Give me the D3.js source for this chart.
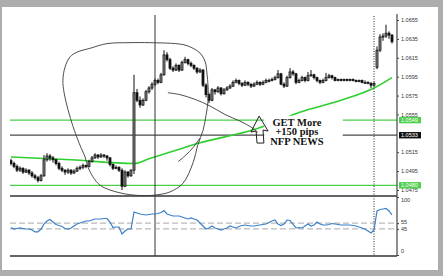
<!DOCTYPE html>
<html>
<head>
<meta charset="utf-8">
<script src="https://cdn.jsdelivr.net/npm/d3@7"></script>
<style>
  html, body { margin: 0; padding: 0; background: #adadad; }
  svg { display: block; }
</style>
</head>
<body>
<svg id="chart" width="443" height="276"></svg>
<script>
// EURUSD-style intraday bars around the NFP release
const open = [
  1.0506,1.0503,1.0500,1.0496,1.0498,1.0494,1.0496,1.0493,1.0490,1.0488,
  1.0485,1.0490,1.0507,1.0511,1.0509,1.0507,1.0503,1.0498,1.0496,1.0494,
  1.0496,1.0493,1.0495,1.0498,1.0499,1.0501,1.0500,1.0505,1.0509,1.0512,
  1.0510,1.0512,1.0511,1.0509,1.0502,1.0498,1.0499,1.0496,1.0479,1.0494,
  1.0490,1.0496,1.0578,1.0570,1.0565,1.0570,1.0579,1.0583,1.0587,1.0591,
  1.0589,1.0597,1.0618,1.0613,1.0604,1.0602,1.0607,1.0602,1.0610,1.0613,
  1.0609,1.0607,1.0604,1.0600,1.0602,1.0586,1.0576,1.0570,1.0581,1.0579,
  1.0583,1.0577,1.0581,1.0583,1.0585,1.0589,1.0591,1.0588,1.0586,1.0589,
  1.0587,1.0585,1.0587,1.0589,1.0587,1.0589,1.0591,1.0591,1.0592,1.0594,
  1.0598,1.0587,1.0585,1.0594,1.0600,1.0598,1.0589,1.0591,1.0594,1.0591,
  1.0596,1.0597,1.0594,1.0591,1.0589,1.0591,1.0594,1.0596,1.0594,1.0591,
  1.0592,1.0591,1.0592,1.0591,1.0592,1.0591,1.0590,1.0591,1.0589,1.0589,
  1.0588,1.0586,1.0605,1.0623,1.0637,1.0638,1.0641,1.0639
];
const high = [
  1.0508,1.0505,1.0502,1.0500,1.0499,1.0498,1.0497,1.0495,1.0492,1.0490,
  1.0492,1.0512,1.0514,1.0513,1.0511,1.0508,1.0505,1.0500,1.0497,1.0498,
  1.0497,1.0497,1.0500,1.0501,1.0503,1.0502,1.0507,1.0511,1.0514,1.0513,
  1.0514,1.0513,1.0512,1.0510,1.0503,1.0501,1.0500,1.0498,1.0496,1.0495,
  1.0497,1.0597,1.0582,1.0574,1.0572,1.0581,1.0585,1.0589,1.0593,1.0593,
  1.0599,1.0623,1.0621,1.0615,1.0606,1.0609,1.0608,1.0612,1.0616,1.0614,
  1.0611,1.0608,1.0605,1.0604,1.0603,1.0588,1.0578,1.0583,1.0582,1.0585,
  1.0584,1.0583,1.0585,1.0587,1.0591,1.0593,1.0592,1.0589,1.0591,1.0590,
  1.0588,1.0589,1.0591,1.0590,1.0591,1.0593,1.0593,1.0594,1.0596,1.0602,
  1.0599,1.0589,1.0596,1.0604,1.0602,1.0599,1.0593,1.0596,1.0595,1.0600,
  1.0602,1.0598,1.0595,1.0592,1.0593,1.0599,1.0598,1.0597,1.0595,1.0593,
  1.0593,1.0593,1.0593,1.0593,1.0593,1.0592,1.0592,1.0592,1.0591,1.0590,
  1.0589,1.0589,1.0627,1.0640,1.0641,1.0650,1.0643,1.0640
];
const low = [
  1.0501,1.0498,1.0494,1.0494,1.0492,1.0493,1.0491,1.0488,1.0486,1.0483,
  1.0484,1.0489,1.0505,1.0506,1.0504,1.0501,1.0496,1.0494,1.0491,1.0492,
  1.0491,1.0492,1.0494,1.0496,1.0497,1.0498,1.0499,1.0504,1.0508,1.0508,
  1.0509,1.0509,1.0506,1.0500,1.0496,1.0497,1.0494,1.0475,1.0478,1.0488,
  1.0489,1.0492,1.0568,1.0562,1.0564,1.0569,1.0577,1.0581,1.0585,1.0587,
  1.0588,1.0596,1.0611,1.0602,1.0600,1.0601,1.0600,1.0601,1.0609,1.0607,
  1.0605,1.0602,1.0598,1.0599,1.0584,1.0573,1.0567,1.0569,1.0576,1.0578,
  1.0575,1.0576,1.0580,1.0582,1.0584,1.0588,1.0586,1.0584,1.0585,1.0585,
  1.0583,1.0584,1.0586,1.0585,1.0586,1.0588,1.0589,1.0590,1.0591,1.0593,
  1.0586,1.0583,1.0584,1.0593,1.0596,1.0587,1.0588,1.0590,1.0589,1.0590,
  1.0595,1.0592,1.0589,1.0587,1.0588,1.0590,1.0593,1.0592,1.0590,1.0590,
  1.0590,1.0590,1.0590,1.0590,1.0590,1.0589,1.0589,1.0588,1.0588,1.0587,
  1.0583,1.0585,1.0603,1.0621,1.0633,1.0636,1.0635,1.0630
];
const close = [
  1.0503,1.0500,1.0496,1.0498,1.0494,1.0496,1.0493,1.0490,1.0488,1.0485,
  1.0490,1.0507,1.0511,1.0509,1.0507,1.0503,1.0498,1.0496,1.0494,1.0496,
  1.0493,1.0495,1.0498,1.0499,1.0501,1.0500,1.0505,1.0509,1.0512,1.0510,
  1.0512,1.0511,1.0509,1.0502,1.0498,1.0499,1.0496,1.0479,1.0494,1.0490,
  1.0496,1.0578,1.0570,1.0565,1.0570,1.0579,1.0583,1.0587,1.0591,1.0589,
  1.0597,1.0618,1.0613,1.0604,1.0602,1.0607,1.0602,1.0610,1.0613,1.0609,
  1.0607,1.0604,1.0600,1.0602,1.0586,1.0576,1.0570,1.0581,1.0579,1.0583,
  1.0577,1.0581,1.0583,1.0585,1.0589,1.0591,1.0588,1.0586,1.0589,1.0587,
  1.0585,1.0587,1.0589,1.0587,1.0589,1.0591,1.0591,1.0592,1.0594,1.0598,
  1.0587,1.0585,1.0594,1.0600,1.0598,1.0589,1.0591,1.0594,1.0591,1.0596,
  1.0597,1.0594,1.0591,1.0589,1.0591,1.0594,1.0596,1.0594,1.0591,1.0592,
  1.0591,1.0592,1.0591,1.0592,1.0591,1.0590,1.0591,1.0589,1.0589,1.0588,
  1.0586,1.0588,1.0623,1.0637,1.0638,1.0641,1.0639,1.0632
];

// RSI oscillator, one value per bar
const rsi = [
  47.4,44.8,45.7,46.6,45.7,44.8,44.8,43.1,39.7,39.7,
  44.8,53.4,58.6,61.2,56.9,52.6,50.9,49.1,45.7,44.8,
  46.6,50.0,53.4,55.2,56.9,58.6,58.6,60.3,62.1,62.1,
  62.1,62.9,62.9,56.9,47.4,48.3,48.3,36.2,41.4,44.8,
  44.8,74.1,72.4,70.7,69.8,69.0,69.8,70.7,70.7,71.6,
  73.3,76.7,70.7,69.0,67.2,67.2,67.2,65.5,63.8,62.1,
  63.8,62.1,60.3,55.2,50.0,44.8,46.6,50.0,46.6,44.8,
  43.1,44.8,46.6,50.0,48.3,46.6,49.1,50.9,51.7,50.9,
  50.0,50.0,50.9,51.7,52.6,53.4,56.0,58.6,60.3,53.4,
  50.9,53.4,60.3,59.5,53.4,46.6,47.4,46.6,50.0,53.4,
  50.0,51.7,56.9,53.4,51.7,51.7,52.6,54.3,53.4,52.6,
  51.7,51.7,51.7,51.7,50.9,50.0,48.3,46.6,44.8,41.4,
  37.9,43.1,75.9,78.4,79.3,80.2,75.9,69.0
];

// Moving average, sampled at bar positions
const maBars   = [0, 20, 41, 46, 55, 63, 71, 80, 88, 96, 110, 121, 127];
const maValues = [1.0510, 1.0507, 1.0503, 1.0508, 1.0517, 1.0525, 1.0531, 1.0538, 1.0547, 1.0557, 1.0570, 1.0583, 1.0594];

// Price scale labels and horizontal levels
const priceTicks = [1.0655, 1.0635, 1.0615, 1.0595, 1.0575, 1.0555, 1.0515, 1.0495, 1.0475];
const greenLevels = [1.0549, 1.0480];
const blackLevels = [1.0533];
const rsiTicks = [100, 55, 45, 0];
const rsiLevels = [55, 45];

// Vertical markers (bar index)
const newsBar = 48;
const releaseBar = 121;

// Hand-drawn notes, in [bar, price] coordinates
const loopStroke = [
  [32,1.0630],[39.7,1.0631],[46.3,1.0631],[57.3,1.0629],[60.7,1.0625],[63,1.0620],
  [64.7,1.0611],[65.3,1.0599],[65.7,1.0584],[65.7,1.0570],[65,1.0554],[64,1.0538],
  [62.3,1.0523],[60.7,1.0504],[57.3,1.0482],[53,1.0473],[49,1.0470],[44.7,1.0469],
  [39.7,1.0470],[36.3,1.0472],[33,1.0475],[29.7,1.0480],[27.3,1.0489],[25.7,1.0499],
  [24.7,1.0510],[23.3,1.0520],[22.3,1.0528],[20.7,1.0542],[19,1.0560],[17.7,1.0578],
  [17.3,1.0591],[18,1.0605],[19.7,1.0616],[22,1.0621],[26.3,1.0625]
];
const swooshStroke = [
  [52.3,1.0578],[56.3,1.0576],[61.3,1.0571],[66.3,1.0564],[71.3,1.0555],
  [76.3,1.0548],[80.3,1.0541],[82.3,1.0536]
];
const tailStroke = [[55.7,1.0505],[58.3,1.0512],[60.7,1.0520],[63,1.0530]];
const arrowStroke = [
  [82.7,1.05533],[85.7,1.05374],[84,1.05385],[84.3,1.05247],
  [82,1.05247],[81.7,1.05374],[80,1.05364]
];
const noteLines = ["GET More", "+150 pips", "NFP NEWS"];
const noteAnchor = [95.3, 1.0543];

// ---- layout ----
const W = 443, H = 276;
const plotL = 10, plotR = 397;
const mainTop = 14, mainBot = 196, rsiBot = 256;

const svg = d3.select("#chart");
svg.append("rect").attr("width", W).attr("height", H).attr("fill", "#adadad");
svg.append("rect").attr("x", 2).attr("y", 7).attr("width", 436).attr("height", 263).attr("fill", "#ffffff");

const x = d3.scaleLinear().domain([0, close.length - 1]).range([11, 392]);
const y = d3.scaleLinear().domain([1.0475, 1.0655]).range([190, 20]);
const yR = d3.scaleLinear().domain([0, 100]).range([255, 197]);

svg.append("defs").append("clipPath").attr("id", "mainClip")
  .append("rect").attr("x", plotL).attr("y", mainTop).attr("width", plotR - plotL).attr("height", mainBot - mainTop);

// horizontal levels
const levels = svg.append("g");
levels.selectAll("line.green").data(greenLevels).join("line")
  .attr("x1", plotL).attr("x2", plotR)
  .attr("y1", d => y(d)).attr("y2", d => y(d))
  .attr("stroke", "#49cf49").attr("stroke-width", 1.2);
levels.selectAll("line.black").data(blackLevels).join("line")
  .attr("x1", plotL).attr("x2", plotR)
  .attr("y1", d => y(d)).attr("y2", d => y(d))
  .attr("stroke", "#4a4a4a").attr("stroke-width", 1.2);

// moving average
const maPts = maBars.map((b, k) => [b, maValues[k]]);
svg.append("path").datum(maPts)
  .attr("d", d3.line().x(d => x(d[0])).y(d => y(d[1])).curve(d3.curveMonotoneX))
  .attr("fill", "none").attr("stroke", "#2fcf2f").attr("stroke-width", 1.6);

// candles
const bars = d3.range(close.length).map(i => ({ i, o: open[i], h: high[i], l: low[i], c: close[i] }));
const cg = svg.append("g").attr("clip-path", "url(#mainClip)");
cg.selectAll("line.wick").data(bars).join("line")
  .attr("x1", d => x(d.i)).attr("x2", d => x(d.i))
  .attr("y1", d => y(d.h)).attr("y2", d => y(d.l))
  .attr("stroke", "#111").attr("stroke-width", 1);
cg.selectAll("rect.body").data(bars).join("rect")
  .attr("x", d => x(d.i) - 1).attr("width", 2)
  .attr("y", d => y(Math.max(d.o, d.c)))
  .attr("height", d => Math.max(1, Math.abs(y(d.o) - y(d.c))))
  .attr("fill", d => d.c >= d.o ? "#8a8a8a" : "#111")
  .attr("stroke", "#111").attr("stroke-width", 0.8);

// vertical markers
svg.append("line")
  .attr("x1", x(newsBar)).attr("x2", x(newsBar)).attr("y1", 15).attr("y2", rsiBot)
  .attr("stroke", "#333").attr("stroke-width", 1);
svg.append("line")
  .attr("x1", x(releaseBar)).attr("x2", x(releaseBar)).attr("y1", 16).attr("y2", rsiBot)
  .attr("stroke", "#222").attr("stroke-width", 1).attr("stroke-dasharray", "1,1.5");

// RSI panel
svg.selectAll("line.rsiLevel").data(rsiLevels).join("line")
  .attr("x1", plotL).attr("x2", plotR)
  .attr("y1", d => yR(d)).attr("y2", d => yR(d))
  .attr("stroke", "#a8a8a8").attr("stroke-width", 1).attr("stroke-dasharray", "6,3");
svg.append("path").datum(rsi)
  .attr("d", d3.line().x((d, i) => x(i)).y(d => yR(d)))
  .attr("fill", "none").attr("stroke", "#3b7fc8").attr("stroke-width", 1.2);

// panel borders and price axis line
svg.append("line").attr("x1", plotL).attr("x2", plotR).attr("y1", mainBot).attr("y2", mainBot)
  .attr("stroke", "#333").attr("stroke-width", 1.3);
svg.append("line").attr("x1", plotL).attr("x2", plotR).attr("y1", rsiBot).attr("y2", rsiBot)
  .attr("stroke", "#333").attr("stroke-width", 1.3);
svg.append("line").attr("x1", plotR).attr("x2", plotR).attr("y1", 14).attr("y2", rsiBot)
  .attr("stroke", "#444").attr("stroke-width", 1.2);

// price axis
const fmt = d3.format(".4f");
svg.append("g").attr("transform", `translate(${plotR},0)`)
  .call(d3.axisRight(y).tickValues(priceTicks).tickSize(2).tickPadding(2).tickFormat(fmt))
  .call(g => g.select(".domain").remove())
  .attr("font-family", "Liberation Sans, Arial, sans-serif").attr("font-size", 5.5)
  .call(g => g.selectAll("line").attr("stroke", "#444"))
  .call(g => g.selectAll("text").attr("fill", "#333"));

// level tags on the axis
const tags = svg.append("g").attr("font-family", "Liberation Sans, Arial, sans-serif").attr("font-size", 5.5);
const tagData = greenLevels.map(v => ({ v, fill: "#4fd04f" })).concat(blackLevels.map(v => ({ v, fill: "#111" })));
tags.selectAll("rect").data(tagData).join("rect")
  .attr("x", plotR + 2).attr("y", d => y(d.v) - 3.2).attr("width", 22).attr("height", 6.4)
  .attr("fill", d => d.fill);
tags.selectAll("text").data(tagData).join("text")
  .attr("x", plotR + 4).attr("y", d => y(d.v)).attr("dy", "0.35em")
  .attr("fill", "#fff").text(d => fmt(d.v));

// RSI axis
const rsiShift = { 100: 3, 55: -1.4, 45: -0.6, 0: -4.3 };
svg.append("g").attr("transform", `translate(${plotR},0)`)
  .call(d3.axisRight(yR).tickValues(rsiTicks).tickSize(2).tickPadding(2))
  .call(g => g.select(".domain").remove())
  .attr("font-family", "Liberation Sans, Arial, sans-serif").attr("font-size", 5.5)
  .call(g => g.selectAll("line").attr("stroke", "#444"))
  .call(g => g.selectAll("text").attr("fill", "#333").attr("y", d => rsiShift[d]));

// hand-drawn notes
const pen = d3.line().x(d => x(d[0])).y(d => y(d[1]));
svg.append("path")
  .attr("d", pen.curve(d3.curveCatmullRomClosed)(loopStroke))
  .attr("fill", "none").attr("stroke", "#3a3a3a").attr("stroke-width", 0.9);
svg.append("path")
  .attr("d", pen.curve(d3.curveCatmullRom)(swooshStroke))
  .attr("fill", "none").attr("stroke", "#3a3a3a").attr("stroke-width", 0.9);
svg.append("path")
  .attr("d", pen.curve(d3.curveCatmullRom)(tailStroke))
  .attr("fill", "none").attr("stroke", "#3a3a3a").attr("stroke-width", 0.9);

const note = svg.append("g");
const noteBg = note.append("rect").attr("fill", "#fff");
const noteText = note.append("text")
  .attr("x", x(noteAnchor[0])).attr("y", y(noteAnchor[1]))
  .attr("text-anchor", "middle")
  .attr("font-family", "Liberation Serif, Times New Roman, serif")
  .attr("font-weight", "bold").attr("font-size", 10.5).attr("fill", "#111");
noteText.selectAll("tspan").data(noteLines).join("tspan")
  .attr("x", x(noteAnchor[0])).attr("dy", (d, i) => i === 0 ? 0 : "0.92em")
  .text(d => d);
const bb = noteText.node().getBBox();
noteBg.attr("x", bb.x - 6).attr("y", bb.y - 1).attr("width", bb.width + 25).attr("height", bb.height + 3);

svg.append("path")
  .attr("d", pen.curve(d3.curveLinearClosed)(arrowStroke))
  .attr("fill", "none").attr("stroke", "#222").attr("stroke-width", 1);
</script>
</body>
</html>
